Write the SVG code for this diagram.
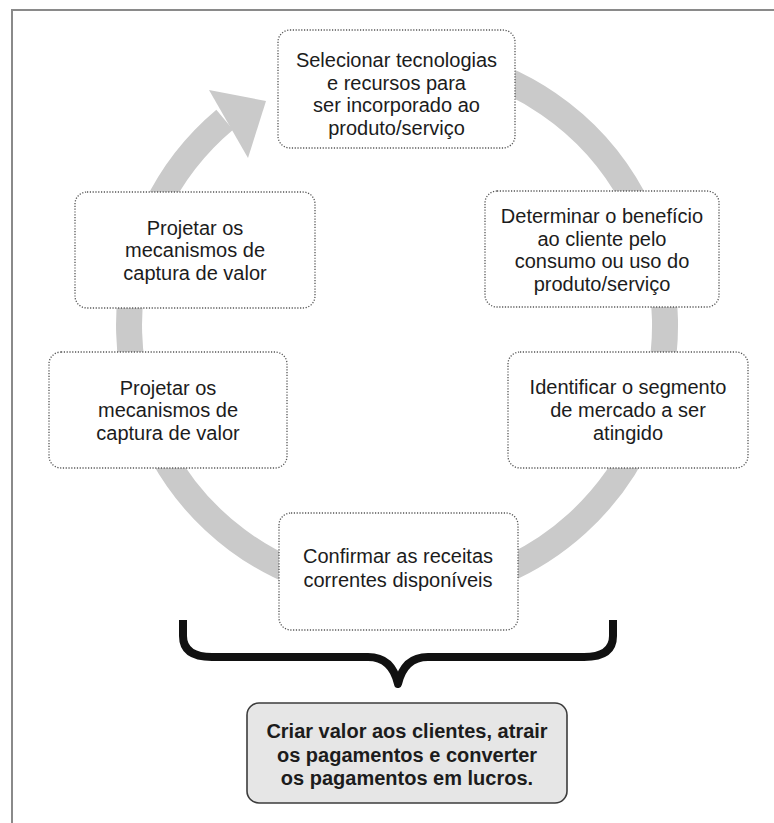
<svg xmlns="http://www.w3.org/2000/svg" width="774" height="823" viewBox="0 0 774 823">
  <style>
    .frame { fill: none; stroke: #8a8a8a; stroke-width: 2; }
    .step { fill: #ffffff; stroke: #555555; stroke-width: 1.3; stroke-dasharray: 1.2 1.6; }
    .label { font-family: "Liberation Sans", Arial, sans-serif; font-size: 20px; fill: #1c1c1c; text-anchor: middle; }
    .result-box { fill: #e6e6e6; stroke: #3c3c3c; stroke-width: 1.6; }
    .result { font-family: "Liberation Sans", Arial, sans-serif; font-size: 20px; font-weight: bold; fill: #1c1c1c; text-anchor: middle; }
    .ring { fill: none; stroke: #cacaca; stroke-width: 26; }
    .head { fill: #cacaca; }
    .brace { fill: none; stroke: #111111; stroke-width: 8; stroke-linejoin: round; }
  </style>

  <rect width="774" height="823" fill="#ffffff"/>
  <!-- page frame: top and left edges -->
  <path class="frame" d="M12,823 V10 H774"/>

  <!-- connectors: circular flow arrow and brace -->
  <g id="connectors">
    <path class="ring" d="M443.5,61 A268,268 0 1 1 224.7,119.7"/>
    <polygon class="head" points="209,90 266,101 248,158"/>
    <path class="brace" d="M183,620 V636 Q183,657 212,657 H368 Q392,657 398,684 Q404,657 428,657 H584 Q613,657 613,636 V620"/>
  </g>

  <g id="node-tecnologias">
    <rect class="step" x="278" y="30" width="237" height="118" rx="12"/>
    <text class="label" x="396.5" y="67">Selecionar tecnologias</text>
    <text class="label" x="396.5" y="89.5">e recursos para</text>
    <text class="label" x="396.5" y="112">ser incorporado ao</text>
    <text class="label" x="396.5" y="134.5">produto/serviço</text>
  </g>

  <g id="node-beneficio">
    <rect class="step" x="485" y="191" width="234" height="116" rx="12"/>
    <text class="label" x="602" y="223">Determinar o benefício</text>
    <text class="label" x="602" y="245.5">ao cliente pelo</text>
    <text class="label" x="602" y="268">consumo ou uso do</text>
    <text class="label" x="602" y="290.5">produto/serviço</text>
  </g>

  <g id="node-segmento">
    <rect class="step" x="508" y="352" width="240" height="116" rx="12"/>
    <text class="label" x="628" y="394">Identificar o segmento</text>
    <text class="label" x="628" y="417">de mercado a ser</text>
    <text class="label" x="628" y="440">atingido</text>
  </g>

  <g id="node-receitas">
    <rect class="step" x="279" y="513" width="239" height="117" rx="12"/>
    <text class="label" x="398" y="563">Confirmar as receitas</text>
    <text class="label" x="398" y="587">correntes disponíveis</text>
  </g>

  <g id="node-captura-inferior">
    <rect class="step" x="49" y="352" width="238" height="116" rx="12"/>
    <text class="label" x="168" y="395">Projetar os</text>
    <text class="label" x="168" y="417">mecanismos de</text>
    <text class="label" x="168" y="440">captura de valor</text>
  </g>

  <g id="node-captura-superior">
    <rect class="step" x="75" y="192" width="240" height="116" rx="12"/>
    <text class="label" x="195" y="235">Projetar os</text>
    <text class="label" x="195" y="257">mecanismos de</text>
    <text class="label" x="195" y="280">captura de valor</text>
  </g>

  <g id="node-resultado">
    <rect class="result-box" x="247" y="703" width="320" height="100" rx="12"/>
    <text class="result" x="407" y="738">Criar valor aos clientes, atrair</text>
    <text class="result" x="407" y="762">os pagamentos e converter</text>
    <text class="result" x="407" y="785">os pagamentos em lucros.</text>
  </g>
</svg>
